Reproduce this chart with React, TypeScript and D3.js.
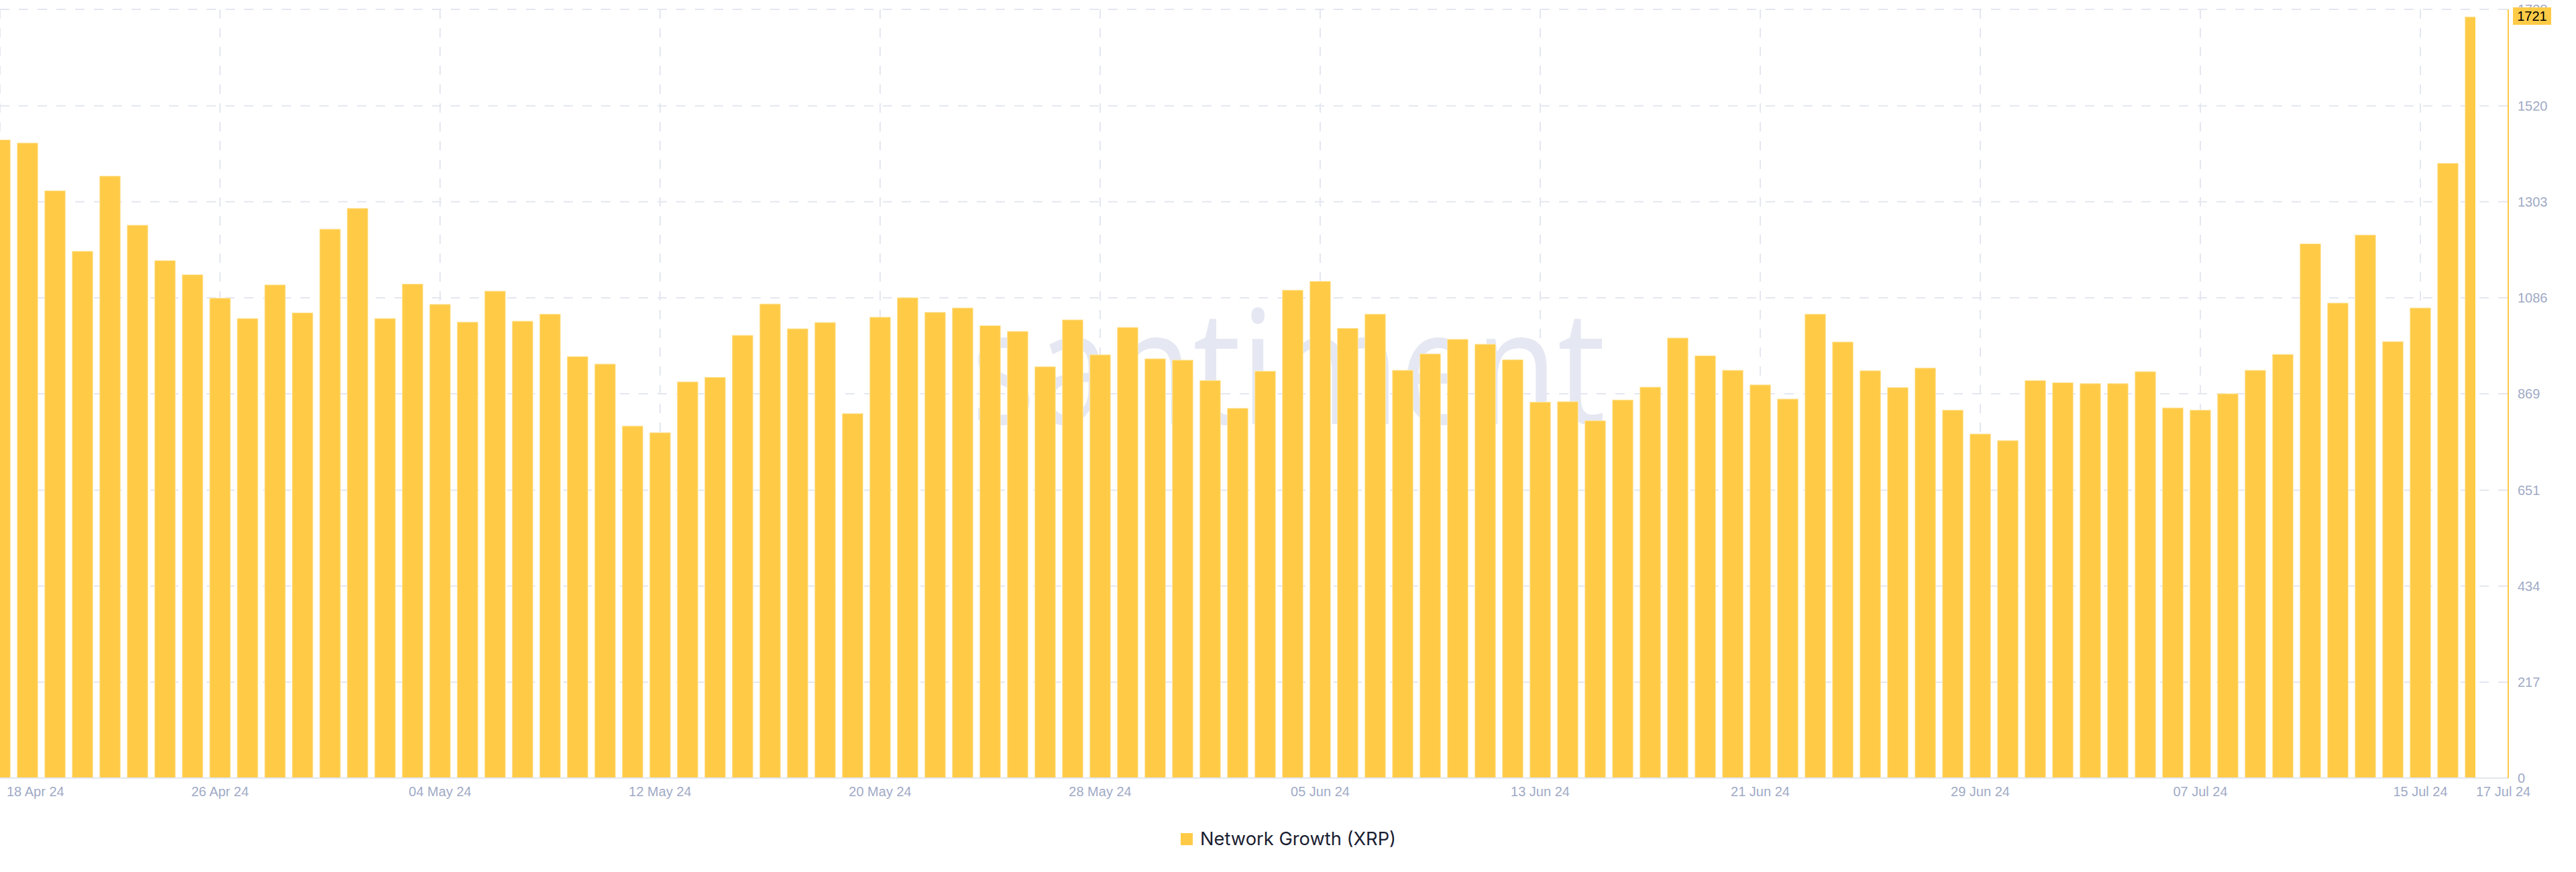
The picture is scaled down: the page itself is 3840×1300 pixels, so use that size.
import React from "react";
import * as d3 from "d3";

const startDate = new Date(2024, 3, 18);
const values: number[] = [
  1443, 1436, 1328, 1191, 1361, 1250, 1170, 1138, 1085, 1039,
  1115, 1052, 1241, 1288, 1039, 1117, 1071, 1031, 1101, 1033,
  1049, 953, 936, 796, 781, 896, 906, 1001, 1072, 1016,
  1030, 824, 1042, 1086, 1053, 1063, 1023, 1010, 930, 1036,
  957, 1019, 948, 945, 899, 836, 920, 1103, 1123, 1017,
  1049, 922, 959, 992, 981, 946, 850, 851, 808, 855,
  884, 995, 955, 922, 889, 857, 1049, 986, 921, 883,
  927, 832, 778, 763, 899, 894, 892, 892, 919, 837,
  832, 869, 922, 958, 1208, 1074, 1228, 987, 1063, 1390,
  1721,
];
const dates: Date[] = values.map((_, i) => d3.timeDay.offset(startDate, i));
const yTickLabels: number[] = [0, 217, 434, 651, 869, 1086, 1303, 1520, 1738];
const xTickLabels: string[] = [
  "18 Apr 24", "26 Apr 24", "04 May 24", "12 May 24", "20 May 24", "28 May 24",
  "05 Jun 24", "13 Jun 24", "21 Jun 24", "29 Jun 24", "07 Jul 24", "15 Jul 24",
];
const lastLabel = "17 Jul 24";
const seriesName = "Network Growth (XRP)";

const W = 3840;
const H = 1300;
const plotTop = 14;
const plotBottom = 1160;
const dataRight = 3690;
const plotRight = 3739;
const yMax = 1738;
const YELLOW = "#ffcb47";
const GRID = "#e4e7f0";
const TICK = "#9faac6";

export default function App() {
  const x = d3.scaleTime().domain([dates[0], dates[dates.length - 1]]).range([0, dataRight]);
  const y = d3.scaleLinear().domain([0, yMax]).range([plotBottom, plotTop]);
  const barW = 30.6;
  const xTickDates = xTickLabels.map((_, i) => d3.timeDay.offset(startDate, i * 8));
  const last = values[values.length - 1];
  const font = "'Liberation Sans', Arial, sans-serif";

  return (
    <svg
      width={W}
      height={H}
      style={{ position: "absolute", left: 0, top: 0, background: "#fff" }}
    >
      <defs>
        <clipPath id="dataClip">
          <rect x={0} y={0} width={dataRight} height={plotBottom} />
        </clipPath>
      </defs>
      {yTickLabels.slice(1).map((v) => (
        <line
          key={"h" + v}
          x1={0}
          x2={plotRight}
          y1={y(v)}
          y2={y(v)}
          stroke={GRID}
          strokeWidth={2}
          strokeDasharray="14,14"
        />
      ))}
      {xTickDates.map((d, i) => (
        <line
          key={"v" + i}
          x1={x(d)}
          x2={x(d)}
          y1={plotTop}
          y2={plotBottom}
          stroke={GRID}
          strokeWidth={2}
          strokeDasharray="14,14"
        />
      ))}
      <text
        x={1448}
        y={632}
        fontFamily="'Open Sans', 'Noto Sans', sans-serif"
        fontSize={236}
        fill="#e5e8f2"
        textLength={998}
        lengthAdjust="spacingAndGlyphs"
      >
        santiment.
      </text>
      <g clipPath="url(#dataClip)">
        {values.map((v, i) => (
          <rect
            key={i}
            x={x(dates[i]) - barW / 2}
            y={y(v)}
            width={barW}
            height={plotBottom - y(v)}
            fill={YELLOW}
            stroke="#ffe7a3"
            strokeWidth={1}
          />
        ))}
      </g>
      <line x1={0} x2={plotRight} y1={plotBottom} y2={plotBottom} stroke="#e3e6ef" strokeWidth={2} />
      <line x1={plotRight} x2={plotRight} y1={plotTop} y2={plotBottom} stroke={YELLOW} strokeWidth={2} />
      {yTickLabels.map((v) => (
        <text
          key={"yl" + v}
          x={plotRight + 14}
          y={y(v)}
          dy="0.35em"
          fontFamily={font}
          fontSize={20}
          fill={TICK}
        >
          {v}
        </text>
      ))}
      <rect x={3746} y={11} width={57} height={26} fill={YELLOW} />
      <text
        x={3746 + 57 / 2}
        y={24}
        dy="0.35em"
        textAnchor="middle"
        fontFamily={font}
        fontSize={20}
        fill="#000"
      >
        {last}
      </text>
      {xTickDates.map((d, i) => (
        <text
          key={"xl" + i}
          x={i === 0 ? 10 : x(d)}
          y={1187}
          textAnchor={i === 0 ? "start" : "middle"}
          fontFamily={font}
          fontSize={20}
          fill={TICK}
        >
          {xTickLabels[i]}
        </text>
      ))}
      <text
        x={x(dates[dates.length - 1]) + 1}
        y={1187}
        textAnchor="start"
        fontFamily={font}
        fontSize={20}
        fill={TICK}
      >
        {lastLabel}
      </text>
      <rect x={1760} y={1242} width={18} height={18} fill={YELLOW} />
      <text x={1789} y={1260} fontFamily="Inter, 'Noto Sans', sans-serif" fontSize={27.3} fill="#1a2030">
        {seriesName}
      </text>
    </svg>
  );
}
